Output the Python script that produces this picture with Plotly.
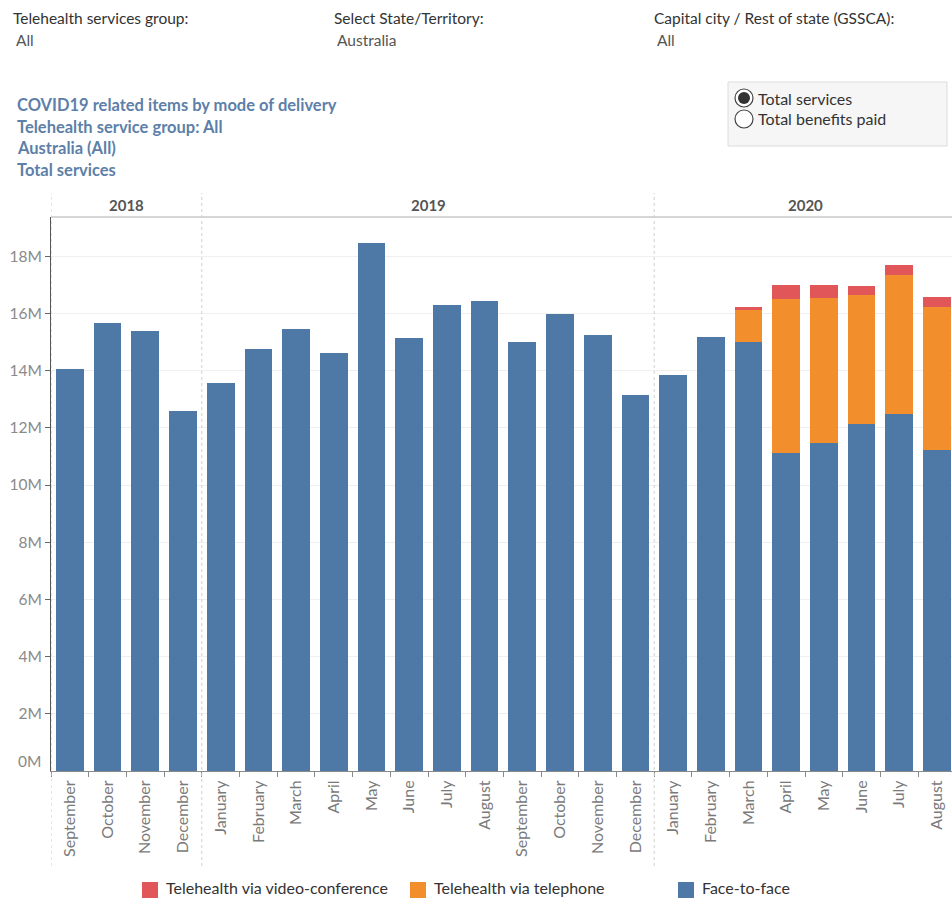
import plotly.graph_objects as go

# Monthly MBS services (millions) by mode of delivery
months = ["September", "October", "November", "December",
          "January", "February", "March", "April", "May", "June", "July", "August",
          "September", "October", "November", "December",
          "January", "February", "March", "April", "May", "June", "July", "August"]
years = ["2018"] * 4 + ["2019"] * 12 + ["2020"] * 8

face_to_face = [14.06, 15.68, 15.39, 12.60,
                13.55, 14.75, 15.47, 14.62, 18.47, 15.13, 16.29, 16.45,
                14.99, 15.99, 15.25, 13.13,
                13.85, 15.18, 14.99, 11.13, 11.46, 12.14, 12.49, 11.24]
telephone = [0] * 18 + [1.12, 5.37, 5.08, 4.50, 4.86, 4.97]
video_conference = [0] * 18 + [0.12, 0.51, 0.47, 0.33, 0.34, 0.36]

series_names = ["Face-to-face", "Telehealth via telephone", "Telehealth via video-conference"]
series_colors = ["#4e79a7", "#f28e2b", "#e15759"]
y_ticks = list(range(0, 20, 2))
y_tick_text = ["%dM" % v for v in y_ticks]

# Page geometry
W, H = 952, 899
L, R, T, B = 51, 0, 217, 128
PX_PER_M = 28.6
BAND = 37.7


def px_x(px):
    return (px - L) / (W - L - R)


def px_y(py):
    return (H - B - py) / (H - T - B)


FONT = "Lato, 'Open Sans', sans-serif"
x_idx = list(range(len(months)))

fig = go.Figure()
for vals, name, col in zip([face_to_face, telephone, video_conference], series_names, series_colors):
    fig.add_trace(go.Bar(x=x_idx, y=vals, name=name, marker=dict(color=col, line=dict(width=0)),
                         showlegend=False))

plot_h = H - T - B
x_end = -0.5 + (W - L - R) / BAND

fig.update_layout(
    width=W, height=H,
    margin=dict(l=L, r=R, t=T, b=B, pad=0),
    barmode="stack", bargap=0.265,
    plot_bgcolor="white", paper_bgcolor="white",
    font=dict(family=FONT, color="#333333", size=16),
    showlegend=False,
)
fig.update_xaxes(
    range=[-0.5, x_end], tickmode="array", tickvals=x_idx, ticktext=months,
    tickangle=-90, ticks="", ticklabelstandoff=2,
    tickfont=dict(family=FONT, size=16, color="#7a7a7a"),
    showgrid=False, zeroline=False, showline=True, linecolor="#8a8a8a", linewidth=1,
    minor=dict(tickmode="array", tickvals=[i - 0.5 for i in range(len(months) + 1)],
               ticks="outside", ticklen=5, tickcolor="#8a8a8a", showgrid=False),
)
# The zero label sits slightly above the baseline, drawn separately below
fig.update_yaxes(
    range=[0, plot_h / PX_PER_M], tickmode="array", tickvals=y_ticks[1:], ticktext=y_tick_text[1:],
    ticks="outside", ticklen=5, tickcolor="#666666",
    tickfont=dict(family=FONT, size=15.5, color="#8a8a8a"),
    showgrid=True, gridcolor="#efefef", gridwidth=1, zeroline=False,
    showline=True, linecolor="#555555", linewidth=1,
)

shapes = []
annotations = []

annotations.append(dict(x=px_x(43), y=px_y(761), xref="paper", yref="paper", text=y_tick_text[0],
                        showarrow=False, xanchor="right", yanchor="middle",
                        font=dict(family=FONT, size=15.5, color="#8a8a8a")))

# Top border of the pane
shapes.append(dict(type="line", xref="paper", yref="paper", x0=0, x1=1, y0=1, y1=1,
                   line=dict(color="#c8c8c8", width=1.5)))

# Year separators and year headers
bounds = [-0.5]
for i in range(1, len(years)):
    if years[i] != years[i - 1]:
        bounds.append(i - 0.5)
for b in bounds:
    shapes.append(dict(type="line", xref="x", yref="paper", x0=b, x1=b,
                       y0=px_y(866), y1=px_y(193),
                       line=dict(color="#cfcfcf", width=1, dash="dot")))
ends = bounds[1:] + [len(years) - 0.5]
for b0, b1 in zip(bounds, ends):
    annotations.append(dict(x=(b0 + b1) / 2, y=px_y(205), xref="x", yref="paper",
                            text="<b>%s</b>" % years[int(b0 + 0.5)], showarrow=False,
                            font=dict(family=FONT, size=15, color="#555555"),
                            xanchor="center", yanchor="middle"))

# Filter headers
filters = [("Telehealth services group:", "All", 11),
           ("Select State/Territory:", "Australia", 332),
           ("Capital city / Rest of state (GSSCA):", "All", 652)]
for label, value, xp in filters:
    annotations.append(dict(x=px_x(xp), y=px_y(18), xref="paper", yref="paper", text=label,
                            showarrow=False, xanchor="left", yanchor="middle",
                            font=dict(family=FONT, size=15.5, color="#333333")))
    annotations.append(dict(x=px_x(xp + 3), y=px_y(40), xref="paper", yref="paper", text=value,
                            showarrow=False, xanchor="left", yanchor="middle",
                            font=dict(family=FONT, size=15.5, color="#555555")))

# Title block
title_lines = ["COVID19 related items by mode of delivery",
               "Telehealth service group: All",
               "Australia (All)",
               "Total services"]
for k, line in enumerate(title_lines):
    annotations.append(dict(x=px_x(15), y=px_y(105 + 21.6 * k), xref="paper", yref="paper",
                            text="<b>%s</b>" % line, showarrow=False, xanchor="left",
                            yanchor="middle", font=dict(family=FONT, size=16.5, color="#5d7fa8")))

# Measure selector box
shapes.append(dict(type="rect", xref="paper", yref="paper", x0=px_x(728), x1=px_x(947),
                   y0=px_y(146), y1=px_y(82), fillcolor="#f6f6f6",
                   line=dict(color="#dcdcdc", width=1), layer="above"))
for k, (opt, sel) in enumerate([("Total services", True), ("Total benefits paid", False)]):
    cy = px_y(98 + 21 * k)
    shapes.append(dict(type="circle", xref="paper", yref="paper", xsizemode="pixel",
                       ysizemode="pixel", xanchor=px_x(744), yanchor=cy,
                       x0=-9, x1=9, y0=-9, y1=9, fillcolor="white",
                       line=dict(color="#444444", width=1.2), layer="above"))
    if sel:
        shapes.append(dict(type="circle", xref="paper", yref="paper", xsizemode="pixel",
                           ysizemode="pixel", xanchor=px_x(744), yanchor=cy,
                           x0=-6, x1=6, y0=-6, y1=6, fillcolor="#333333",
                           line=dict(width=0), layer="above"))
    annotations.append(dict(x=px_x(756), y=cy, xref="paper", yref="paper", text=opt,
                            showarrow=False, xanchor="left", yanchor="middle",
                            font=dict(family=FONT, size=16, color="#333333")))

# Colour legend
legend_items = [(series_names[2], series_colors[2], 142),
                (series_names[1], series_colors[1], 410),
                (series_names[0], series_colors[0], 678)]
for name, col, xp in legend_items:
    shapes.append(dict(type="rect", xref="paper", yref="paper", x0=px_x(xp), x1=px_x(xp + 16),
                       y0=px_y(898), y1=px_y(882), fillcolor=col, line=dict(width=0)))
    annotations.append(dict(x=px_x(xp + 22), y=px_y(888), xref="paper", yref="paper", text=name,
                            showarrow=False, xanchor="left", yanchor="middle",
                            font=dict(family=FONT, size=16, color="#333333")))

fig.update_layout(shapes=shapes, annotations=annotations)
fig.write_html("out.html")
